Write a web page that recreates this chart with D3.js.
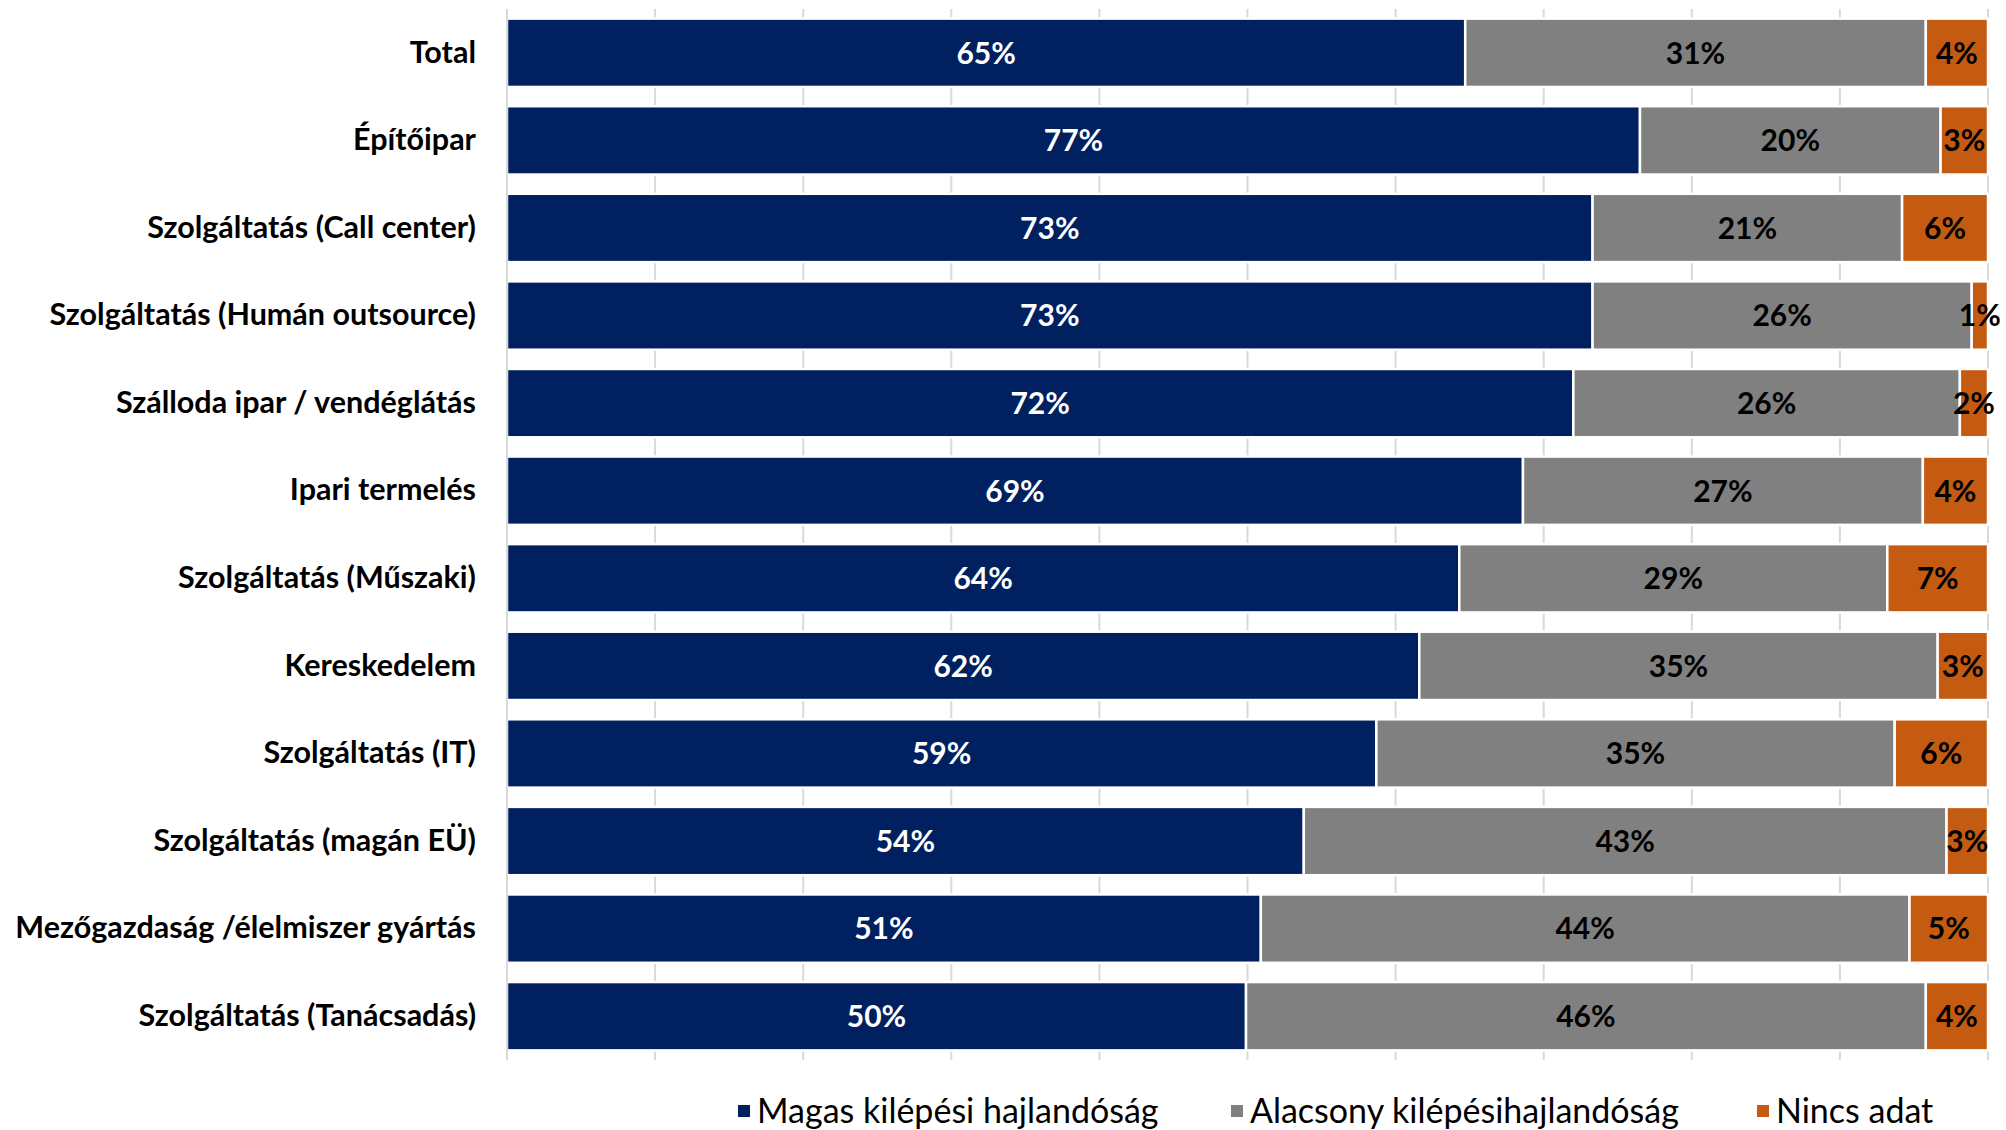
<!DOCTYPE html>
<html>
<head>
<meta charset="utf-8">
<script src="https://cdn.jsdelivr.net/npm/d3@7"></script>
<style>
  html, body { margin: 0; padding: 0; background: #fff; }
  svg { display: block; }
  text { font-family: Lato, "Open Sans", sans-serif; }
</style>
</head>
<body>
<script>
const categories = [
  "Total",
  "Építőipar",
  "Szolgáltatás (Call center)",
  "Szolgáltatás (Humán outsource)",
  "Szálloda ipar / vendéglátás",
  "Ipari termelés",
  "Szolgáltatás (Műszaki)",
  "Kereskedelem",
  "Szolgáltatás (IT)",
  "Szolgáltatás (magán EÜ)",
  "Mezőgazdaság /élelmiszer gyártás",
  "Szolgáltatás (Tanácsadás)"
];
const seriesNames = ["Magas kilépési hajlandóság", "Alacsony kilépésihajlandóság", "Nincs adat"];
const magas     = [64.7, 76.5, 73.3, 73.3, 72.0, 68.6, 64.3, 61.6, 58.7, 53.8, 50.9, 49.9];
const alacsony  = [31.1, 20.3, 20.9, 25.6, 26.1, 27.0, 28.9, 35.0, 35.0, 43.4, 43.8, 45.9];
const nincs     = [ 4.2,  3.2,  5.8,  1.1,  1.9,  4.4,  6.8,  3.4,  6.3,  2.8,  5.3,  4.2];
const xTicks = [0, 10, 20, 30, 40, 50, 60, 70, 80, 90, 100];

const colors = ["#002060", "#808080", "#C55A11"];
const labelColors = ["#ffffff", "#000000", "#000000"];

const W = 2006, H = 1130;
const margin = { left: 507, right: 18, top: 9, bottom: 70 };

const svg = d3.select("body").append("svg").attr("width", W).attr("height", H);

const x = d3.scaleLinear().domain([0, 100]).range([margin.left, W - margin.right]);
const y = d3.scaleBand().domain(categories).range([margin.top, H - margin.bottom]).paddingInner(0.22).paddingOuter(0.11);

// gridlines
svg.append("g").selectAll("line").data(xTicks).join("line")
  .attr("x1", d => x(d)).attr("x2", d => x(d))
  .attr("y1", margin.top).attr("y2", H - margin.bottom)
  .attr("stroke", "#d9d9d9").attr("stroke-width", 2);

// stacked data
const rows = categories.map((c, i) => ({ cat: c, vals: [magas[i], alacsony[i], nincs[i]] }));
const segs = [];
rows.forEach(r => {
  let acc = 0;
  r.vals.forEach((v, k) => {
    segs.push({ cat: r.cat, k, v, x0: acc, x1: acc + v });
    acc += v;
  });
});

const g = svg.append("g");
g.selectAll("rect").data(segs).join("rect")
  .attr("x", d => x(d.x0))
  .attr("width", d => x(d.x1) - x(d.x0))
  .attr("y", d => y(d.cat))
  .attr("height", y.bandwidth())
  .attr("fill", d => colors[d.k])
  .attr("stroke", "#ffffff").attr("stroke-width", 2.5);

g.selectAll("text.val").data(segs).join("text")
  .attr("class", "val")
  .attr("x", d => (x(d.x0) + x(d.x1)) / 2)
  .attr("y", d => y(d.cat) + y.bandwidth() / 2)
  .attr("dy", "0.36em")
  .attr("text-anchor", "middle")
  .attr("font-size", 30).attr("font-weight", 700)
  .attr("fill", d => labelColors[d.k])
  .text(d => Math.round(d.v) + "%");

// left axis line
svg.append("line")
  .attr("x1", margin.left).attr("x2", margin.left)
  .attr("y1", margin.top).attr("y2", H - margin.bottom)
  .attr("stroke", "#d9d9d9").attr("stroke-width", 2);

// category labels
const yAxis = d3.axisLeft(y).tickSize(0).tickPadding(31);
const ya = svg.append("g").attr("transform", `translate(${margin.left},0)`).call(yAxis);
ya.select(".domain").remove();
ya.selectAll("text").attr("font-size", 30.5).attr("font-weight", 700).attr("fill", "#000")
  .style("font-family", "Lato, sans-serif");

// legend
const legendX = [738, 1231, 1757];
const lg = svg.append("g");
seriesNames.forEach((n, i) => {
  const it = lg.append("g").attr("transform", `translate(${legendX[i]},1111)`);
  it.append("rect").attr("x", 0).attr("y", -6).attr("width", 12).attr("height", 12).attr("fill", colors[i]);
  it.append("text").attr("x", 19).attr("y", 0).attr("dy", "0.36em")
    .attr("font-size", 34).attr("fill", "#000").text(n);
});
</script>
</body>
</html>
